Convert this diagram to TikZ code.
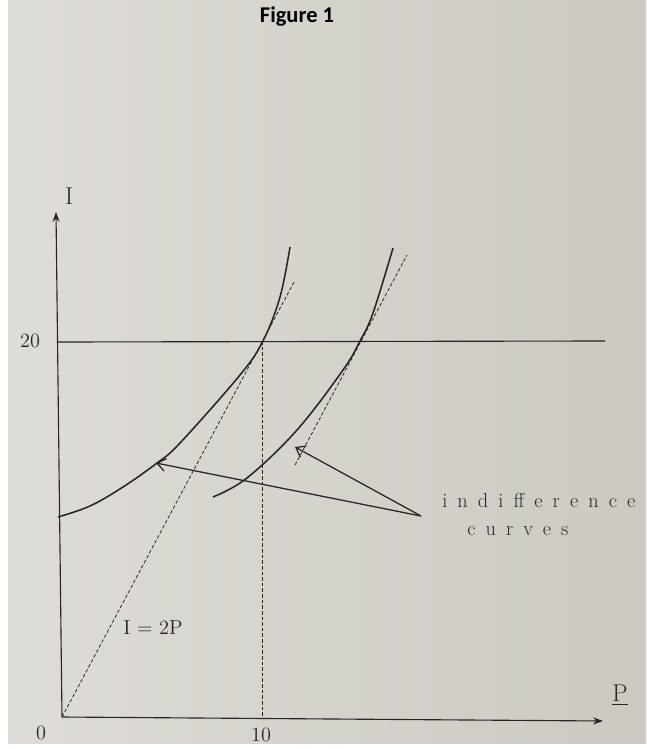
\documentclass[tikz,border=0pt]{standalone}
\usepackage{fontspec}
\newfontfamily\titlefont{Carlito}
\newfontfamily\spacedfont[LetterSpace=50]{Latin Modern Roman}
\usepackage{xcolor}
\usetikzlibrary{arrows.meta}
\definecolor{paperL}{RGB}{222,220,214}
\definecolor{paperR}{RGB}{204,201,195}
\definecolor{pencil}{RGB}{40,38,36}

\begin{document}
\begin{tikzpicture}[
    x=0.025cm, y=-0.025cm,
    axis/.style={-{Stealth[length=7pt,width=5pt]}, draw=pencil, line width=0.8pt},
    icurve/.style={draw=pencil, line width=1.1pt, smooth, tension=0.6},
    guide/.style={draw=pencil, line width=0.55pt, dash pattern=on 2.5pt off 1.5pt},
    pointer/.style={-{Straight Barb[length=6pt,width=9pt]}, draw=pencil, line width=0.9pt},
    lbl/.style={text=pencil, font=\Large, inner sep=1pt},
    note/.style={text=pencil, font=\spacedfont\Large, inner sep=0pt, anchor=base west},
]
% paper
\fill[white] (0,0) rectangle (646,749);
\shade[left color=paperL, right color=paperR] (8,0) rectangle (646,743);
\useasboundingbox (0,0) rectangle (646,749);

\node[text=black, font=\titlefont\bfseries\fontsize{16}{18}\selectfont] (title) at (297,17) {Figure 1};

% axes
\coordinate (O) at (62,717);
\coordinate (Itop) at (56,212);
\coordinate (Pend) at (603,721);
\draw[axis] (O) -- (Itop);
\draw[axis] (O) -- (Pend);
\node[lbl, font=\LARGE] (Ilab) at (69,196) {I};
\node[lbl, font=\LARGE] (Plab) at (620,695) {\underline{P}};
\node[lbl] (zero) at (41,733) {0};
\node[lbl] (ten) at (261,735) {10};
\node[lbl] (twenty) at (30,341) {20};

% I = 20 and P = 10
\coordinate (A) at (57,342);
\coordinate (Aend) at (605,341);
\coordinate (E) at (262,341);
\coordinate (Ebase) at (262,719);
\draw[draw=pencil, line width=0.8pt] (A) -- (Aend);
\draw[guide] (E) -- (Ebase);

% I = 2P and its parallel
\coordinate (Ray) at (294,282);
\coordinate (Par1) at (295,465);
\coordinate (Par2) at (407,255);
\draw[guide] (O) -- (Ray);
\draw[guide] (Par1) -- (Par2);
\node[lbl] (ray) at (153,628) {I = 2P};

% indifference curves
\draw[icurve] plot coordinates {(58,517) (90,506) (123,487) (157,463) (180,443) (240,375) (263,341) (280,297) (290,247)};
\draw[icurve] plot coordinates {(213,497) (247,478) (297,430) (343,370) (360,341) (373,313) (393,248)};

\node[note] (ind) at (442,507) {indifference};
\node[note] (crv) at (467,535) {curves};
\coordinate (apex) at (421,516);
\coordinate (tipL) at (156,463);
\coordinate (tipR) at (295,447);
\draw[pointer] (apex) -- (tipL);
\draw[pointer] (apex) -- (tipR);
\end{tikzpicture}
\end{document}
